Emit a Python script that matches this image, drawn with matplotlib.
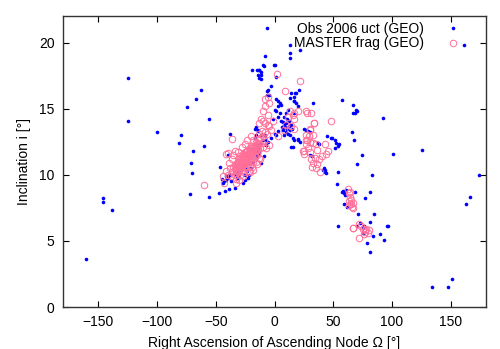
import numpy as np
import matplotlib.pyplot as plt

plt.rcParams['font.family'] = ['Liberation Sans', 'DejaVu Sans']

# Observed uncorrelated GEO objects (RAAN [deg], inclination [deg])
obs_raan = [
    -160.3, -146.1, -146.1, -138.7, -125.1, -124.8, -100.2, -74.6, -67.0, -62.4,
    -55.6, -79.7, -81.1, -59.8, -69.2, -70.9, -69.8, -71.5, -55.9, -47.4,
    -42.0, -38.3, -34.0, -46.0, -37.7, -39.7,
    133.9, 147.8, 151.2, 163.4, 166.0, 173.9, 125.7, 100.7, 161.1,
    -6.2, 12.8, 21.6, 12.8, 12.8, -7.9, -9.6, -0.3, -19.3, -15.0, -12.8, -11.3, -11.3,
    1.1, -5.7, -6.2, 20.7, 17.6, 13.3, 17.0, 32.9, 57.3, 66.7, 69.5, 66.7, 92.5,
    -13.6, -11.3, -14.2, -12.8, -9.1, 0.0, -3.4, -6.2, -5.1,
    1.4, 2.8, 4.3, 5.7, 2.8, 0.0, 1.4, 4.3, 2.8, -1.4, 5.7, 8.5, 10.0, 11.3, 7.1,
    2.8, 1.4, 0.0, 14.2, 18.5, 17.0, 16.4, 18.5, 19.8, 17.0,
    8.0, 9.0, 10.0, 11.0, 12.0, 13.0, 14.0, 15.0, 9.5, 11.5, 13.5, 10.5, 12.5, 8.5,
    6.0, 7.0, -17.0, -14.2, -15.6, 27.0, 28.3, 29.8, 15.6, 17.0, 19.8, 14.2, 15.6,
    -8.5, -7.9, -14.2, -18.5,
    68.1, 70.0, 65.8, 67.5, 74.3, 70.0, 82.6, 44.8, 48.3, 51.7, 53.9, 51.1,
    36.9, 37.5, 25.5, 19.8, 22.1, 29.8, 31.8, 41.1, 43.1, 44.2, 42.0, 43.0,
    53.9, 53.3, 57.3, 59.0, 61.0, 68.1, 81.7, 77.4, 59.0, 61.8, 70.9, 84.3,
    80.9, 96.5, 95.6, 53.9, 70.4, 75.7, 83.7, 90.2, 92.8, 78.6, 80.9, 72.9,
    76.3, 74.9, 58.0, 60.0, 48.8, 52.5, 54.7,
    -44.5, -43.1, -41.1, -39.7, -44.0, -36.9, -31.7, -32.6, -30.6, -28.3, -29.8,
    -25.5, -15.6, -14.2, -11.3, -17.0, -10.0, -7.1, -12.8, -11.3, -9.1, -21.3,
    -25.5, -27.0, -22.7, -20.0, -18.0, -15.0, -13.0, -23.0,
    -41.0, -38.3, -34.0, -31.2, -28.3, -24.0, -21.3, -15.6, -14.2, -11.3, -5.7, -2.8,
]
obs_inc = [
    3.64, 8.28, 7.98, 7.35, 17.3, 14.1, 13.2, 15.1, 15.7, 16.4,
    14.2, 13.0, 12.4, 12.2, 11.8, 10.9, 10.1, 8.56, 8.33, 8.6,
    8.8, 8.9, 9.0, 10.6, 13.1, 11.5,
    1.54, 1.52, 2.1, 7.8, 8.33, 9.95, 11.9, 11.6, 19.8,
    21.1, 19.8, 19.4, 19.2, 18.8, 19.0, 18.3, 18.3, 17.95, 17.95, 17.95, 17.55, 17.27,
    17.4, 16.4, 16.0, 16.4, 16.2, 15.8, 15.6, 15.4, 15.65, 15.3, 14.9, 14.7, 14.3,
    17.95, 17.8, 17.58, 17.3, 18.26, 18.3, 16.7, 16.3, 16.06,
    15.7, 15.55, 15.4, 15.3, 15.2, 14.9, 14.8, 14.7, 14.4, 14.2, 14.04, 14.4, 14.7, 14.9, 13.4,
    13.3, 13.03, 13.1, 16.2, 16.2, 15.9, 15.55, 15.4, 15.2, 14.7,
    13.8, 13.6, 13.9, 13.5, 13.7, 13.4, 13.8, 13.5, 13.2, 13.1, 13.0, 14.2, 14.1, 13.0,
    13.6, 14.0, 13.5, 13.3, 13.03, 13.4, 13.3, 13.2, 12.8, 12.65, 12.65, 12.1, 12.1,
    13.03, 12.65, 12.27, 11.9,
    14.67, 14.85, 13.2, 12.6, 11.5, 10.8, 10.0, 12.9, 12.75, 12.65, 12.2, 12.0,
    12.4, 12.3, 13.5, 12.7, 12.5, 11.5, 11.4, 10.4, 10.25, 10.1, 10.5, 10.4,
    10.2, 9.3, 8.7, 8.6, 8.86, 8.69, 8.7, 8.25, 7.8, 7.55, 7.05, 7.05,
    6.4, 6.13, 6.13, 6.13, 6.1, 5.96, 5.38, 5.53, 5.1, 4.87, 4.14, 6.39,
    6.13, 5.58, 8.8, 8.5, 12.8, 12.4, 12.3,
    9.67, 9.5, 9.6, 9.75, 9.37, 9.55, 9.75, 10.1, 10.25, 10.4, 10.0,
    10.0, 13.6, 13.4, 13.03, 12.8, 12.65, 12.27, 11.64, 10.9, 11.4, 10.0,
    9.6, 9.37, 9.75, 10.5, 11.0, 11.5, 12.0, 10.3,
    9.9, 10.0, 10.0, 10.25, 10.5, 10.6, 10.9, 11.26, 11.8, 12.3, 12.5, 12.8,
]

# MASTER fragments in GEO (RAAN [deg], inclination [deg])
frag_raan = [
    -59.8, 2.0, 21.3, 8.8, 27.8, 48.2, 33.5, -36.0,
    -5.7, -8.5, -4.3, -8.5, -10.0, -5.7, -11.3, -8.5, -4.3, -12.8, -10.0, -5.7, -8.5,
    12.8, 15.6, 11.3, 19.8, 17.0, 10.0, 8.5, 14.2,
    27.0, 31.2, 34.0, 29.8, 32.6, 27.0, 28.3, 32.6, 35.5, 25.5, 17.0, 17.0, 27.0,
    28.0, 29.0, 30.0, 42.6, 45.4, 44.0, 24.0, 25.0, 29.8, 27.0,
    30.0, 31.0, 33.0, 34.5, 32.0, 35.0, 36.5, 38.0, 40.0, 36.0, 38.5,
    -1.4, 2.8, -4.3,
    62.4, 63.0, 64.0, 63.5, 65.0, 66.0, 67.0, 64.5, 65.5, 66.5, 63.0,
    66.7, 72.3, 76.6, 79.4, 72.3, 75.0, 77.0, 78.0, 80.0, 76.0, 74.0, 67.2,
    -39.7, -35.5, -38.3, -34.0, -31.2, -39.7, -42.6, -32.6, -41.0,
    -36.0, -35.0, -34.0, -33.0, -32.0, -31.0, -30.0, -30.0, -29.0, -29.0, -28.0,
    -28.0, -27.0, -27.0, -26.0, -26.0, -26.0, -25.0, -25.0, -24.0, -24.0, -24.0,
    -23.0, -23.0, -22.0, -22.0, -22.0, -21.0, -21.0, -20.0, -20.0, -20.0, -19.0,
    -19.0, -19.0, -18.0, -18.0, -17.0, -17.0, -16.0, -16.0, -16.0, -15.0, -15.0,
    -14.0, -14.0, -13.0, -13.0, -12.0, -12.0, -11.0, -10.0, -10.0, -9.0, -33.0,
    -37.0, -38.0, -36.0, -34.0, -31.0, -28.0, -25.0, -23.0, -44.0, -41.0, -30.0,
    -27.0, -21.0, -18.0, -15.0, -12.0, -11.0, -13.0, -18.0, -20.0, -6.0, -3.0, -7.0,
    # dense core of the cloud
    -33.0, -33.0, -33.0, -32.0, -32.0, -31.0, -31.0, -31.0, -30.0, -30.0,
    -29.0, -29.0, -29.0, -28.0, -28.0, -27.0, -27.0, -27.0, -26.0, -26.0,
    -25.0, -25.0, -25.0, -24.0, -24.0, -23.0, -23.0, -23.0, -22.0, -22.0,
    -21.0, -21.0, -21.0, -20.0, -20.0, -19.0, -19.0, -19.0, -18.0, -18.0,
    -17.0, -17.0, -16.0, -15.0, -15.0, -14.0,
]
frag_inc = [
    9.24, 17.65, 17.07, 16.3, 14.7, 14.05, 13.9, 12.7,
    15.9, 15.7, 15.4, 15.2, 14.8, 14.5, 14.2, 13.9, 13.7, 13.9, 14.04, 13.8, 13.2,
    14.8, 14.5, 14.4, 14.8, 14.2, 13.8, 13.4, 13.7,
    14.8, 14.7, 13.9, 13.5, 13.0, 12.65, 12.0, 12.4, 12.3, 11.8, 14.7, 13.5, 12.3,
    12.6, 12.9, 12.5, 12.3, 11.8, 11.6, 11.8, 11.6, 13.4, 13.03,
    11.7, 11.2, 10.9, 11.3, 10.6, 10.5, 10.8, 11.2, 11.4, 11.9, 10.2,
    14.04, 12.9, 12.27,
    8.9, 8.6, 8.3, 8.0, 7.8, 7.6, 7.5, 8.7, 8.1, 7.9, 7.7,
    6.0, 6.3, 5.8, 5.6, 5.2, 5.9, 5.7, 5.9, 5.8, 5.5, 6.1, 5.98,
    11.64, 11.5, 10.9, 10.6, 11.0, 10.0, 9.37, 9.37, 11.6,
    10.2, 10.6, 10.0, 10.4, 10.8, 10.2, 10.6, 11.2, 10.0, 10.9, 10.4,
    11.4, 10.8, 11.1, 10.2, 10.6, 11.5, 10.9, 11.3, 10.5, 11.0, 11.7,
    10.8, 11.4, 10.3, 11.1, 11.9, 10.7, 11.5, 11.0, 11.8, 12.2, 10.6,
    11.3, 12.0, 11.0, 11.7, 11.4, 12.2, 11.0, 11.8, 12.5, 11.5, 12.2,
    11.9, 12.7, 11.3, 12.3, 12.0, 12.8, 12.4, 12.9, 12.1, 12.6, 9.7,
    9.9, 10.5, 11.2, 11.8, 11.7, 12.1, 12.3, 12.6, 9.9, 10.3, 9.6,
    9.9, 10.2, 10.4, 10.8, 11.2, 13.3, 13.1, 12.6, 12.9, 13.1, 13.4, 12.0,
    10.1, 10.5, 10.8, 10.3, 10.6, 10.4, 10.7, 11.0, 10.4, 10.9,
    10.6, 11.1, 11.4, 10.7, 11.0, 10.8, 11.3, 11.6, 10.9, 11.2,
    11.0, 11.4, 11.7, 11.1, 11.4, 11.2, 11.5, 11.8, 11.3, 11.6,
    11.4, 11.7, 12.0, 11.5, 11.8, 11.6, 11.9, 12.1, 11.7, 12.0,
    11.8, 12.1, 12.2, 12.0, 12.4, 12.3,
]

x_ticks = [-150, -100, -50, 0, 50, 100, 150]
y_ticks = [0, 5, 10, 15, 20]

fig = plt.figure(figsize=(5.0, 3.49), dpi=100)
ax = fig.add_axes([0.126, 0.120, 0.846, 0.834])

ax.plot(obs_raan, obs_inc, linestyle='none', marker='o', markersize=2.6,
        color='#0000ff', markeredgewidth=0, label='Obs 2006 uct (GEO)')
ax.plot(frag_raan, frag_inc, linestyle='none', marker='o', markersize=4.7,
        markerfacecolor='none', markeredgecolor='#ff6f98', markeredgewidth=0.7,
        label='MASTER frag (GEO)')

ax.set_xlim(-180, 180)
ax.set_ylim(0, 22)
ax.set_xticks(x_ticks)
ax.set_yticks(y_ticks)
ax.tick_params(direction='in', top=True, right=True, length=4, width=0.8,
               labelsize=10, pad=6)
for s in ax.spines.values():
    s.set_linewidth(1.0)
    s.set_color('#333333')

ax.set_xlabel('Right Ascension of Ascending Node \u03a9 [\u00b0]', fontsize=10, labelpad=5)
ax.set_ylabel('Inclination i [\u00b0]', fontsize=10, labelpad=6)

ax.legend(loc='upper right', bbox_to_anchor=(0.945, 0.99), frameon=False,
          markerfirst=False, fontsize=10, handlelength=1.0, handletextpad=1.6,
          labelspacing=0.05, borderaxespad=0.0, borderpad=0.2)

fig.savefig('out.png', dpi=100)
